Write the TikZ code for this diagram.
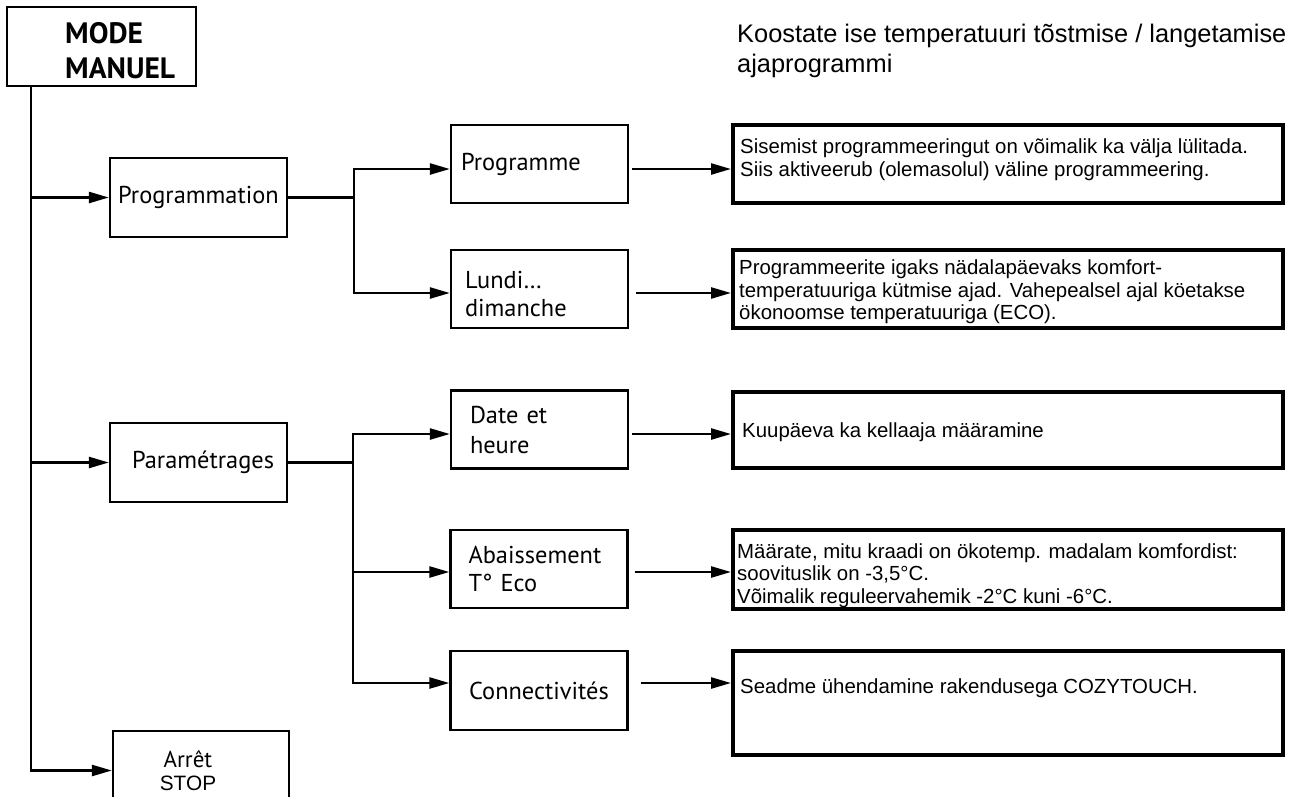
\documentclass[tikz,border=0pt]{standalone}
\usepackage{fontspec}
\setmainfont{PT Sans}
\newfontfamily\arialf{Liberation Sans}
\usetikzlibrary{arrows.meta}
\begin{document}
\begin{tikzpicture}[x=1pt,y=-1pt,
  lbox/.style={draw, line width=2.3pt, inner sep=0pt, minimum width=177pt, minimum height=78pt, font=\fontsize{24.4}{28}\selectfont},
  rbox/.style={draw, line width=4pt, inner sep=0pt, minimum width=550pt},
  rtext/.style={anchor=west, inner sep=0pt, align=left, font=\arialf\fontsize{20.4}{22.5}\selectfont},
  conn/.style={line width=2.5pt},
  feed/.style={line width=3.3pt},
  arr/.style={line width=2.5pt, -{Triangle[length=20pt,width=11pt]}},
]
\useasboundingbox (0,0) rectangle (1301,796);

% title
\node[anchor=north west, inner sep=0pt, align=left, font=\arialf\fontsize{25.4}{29.5}\selectfont] (title) at (737,24)
  {Koostate ise temperatuuri tõstmise / langetamise\\ajaprogrammi};

% level 1
\node[lbox, minimum width=189pt, minimum height=79pt] (mode) at (101.5,46.5) {};
\node[anchor=west, inner sep=0pt, align=left, font=\bfseries\fontsize{29.5}{35}\selectfont] (modetxt) at (65,50.5) {MODE\\MANUEL};
\node[lbox, minimum height=79pt] (prog) at (198.5,197.5) {Programmation};
\node[lbox, minimum height=79pt, text width=151pt, align=right] (param) at (198.5,462.5) {Paramétrages};
\node[lbox, minimum width=176pt, minimum height=79pt] (stop) at (201,770.5) {};
\node[inner sep=0pt, align=center, font=\fontsize{23}{23}\selectfont] (stoptxt) at (188,770.5) {Arrêt\\{\arialf\fontsize{20.8}{23}\selectfont STOP}};

% level 2
\node[lbox, text width=157pt, align=left] (pgm) at (539.5,164) {Programme};
\node[lbox, text width=149pt, align=left] (lundi) at (539.5,289) {\rule{0pt}{28pt}Lundi…\\dimanche};
\node[lbox, text width=139pt, align=left, font=\fontsize{24.4}{30}\selectfont] (date) at (539.5,429.5) {Date et\\heure};
\node[lbox, text width=141pt, align=left] (abai) at (539,569) {Abaissement\\T° Eco};
\node[lbox, minimum height=79pt] (conn) at (539,690.5) {Connectivités};

% level 3
\node[rbox, minimum height=78pt] (r1) at (1008,164) {};
\node[rbox, minimum height=78pt] (r2) at (1008,289) {};
\node[rbox, minimum height=76pt] (r3) at (1008,430) {};
\node[rbox, minimum height=79pt] (r4) at (1008,569.5) {};
\node[rbox, minimum height=104pt] (r5) at (1008,703) {};

\node[rtext] (t1) at ([xshift=9pt,yshift=4.5pt]r1.west)
  {Sisemist programmeeringut on võimalik ka välja lülitada.\\Siis aktiveerub (olemasolul) väline programmeering.};
\node[rtext] (t2) at ([xshift=8pt,yshift=-3pt]r2.west)
  {Programmeerite igaks nädalapäevaks komfort-\\temperatuuriga kütmise ajad. Vahepealsel ajal köetakse\\ökonoomse temperatuuriga (ECO).};
\node[rtext] (t3) at ([xshift=11pt,yshift=-2pt]r3.west) {Kuupäeva ka kellaaja määramine};
\node[rtext] (t4) at ([xshift=6pt,yshift=-6pt]r4.west)
  {Määrate, mitu kraadi on ökotemp. madalam komfordist:\\soovituslik on -3,5°C.\\Võimalik reguleervahemik -2°C kuni -6°C.};
\node[rtext] (t5) at ([xshift=9pt,yshift=15pt]r5.west) {Seadme ühendamine rakendusega COZYTOUCH.};

% coordinates
\coordinate (tk) at (31,0);
\coordinate (b1t) at (354,169);
\coordinate (b1b) at (354,293);
\coordinate (b2a) at (353,434);
\coordinate (b2b) at (353,572);
\coordinate (b2c) at (353,683);

% trunk
\draw[arr] (mode.south -| tk) |- (stop.west);
\draw[arr] (prog.west -| tk) -- (prog.west);
\draw[arr] (param.west -| tk) -- (param.west);

% bus 1
\draw[feed] (prog.east) -- (prog.east -| b1t);
\draw[arr] (b1b) |- (b1t -| pgm.west);
\draw[arr] (b1t) |- (b1b -| lundi.west);

% bus 2
\draw[feed] (param.east) -- (param.east -| b2a);
\draw[arr] (b2c) |- (b2a -| date.west);
\draw[arr] (b2a) |- (b2c -| conn.west);
\draw[arr] (b2b) -- (b2b -| abai.west);

% to descriptions
\draw[arr] ([xshift=3pt]b1t -| pgm.east) -- (b1t -| r1.west);
\draw[arr] ([xshift=7pt]b1b -| lundi.east) -- (b1b -| r2.west);
\draw[arr] ([xshift=3pt]b2a -| date.east) -- (b2a -| r3.west);
\draw[arr] ([xshift=6pt]b2b -| abai.east) -- (b2b -| r4.west);
\draw[arr] ([xshift=12pt]b2c -| conn.east) -- (b2c -| r5.west);
\end{tikzpicture}
\end{document}
